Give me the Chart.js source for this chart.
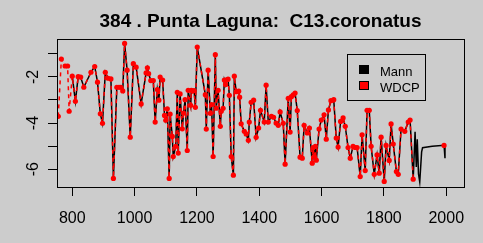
<!DOCTYPE html>
<html><head><meta charset="utf-8">
<script src="https://cdn.jsdelivr.net/npm/chart.js@4"></script>
<style>html,body{margin:0;padding:0;background:#cccccc;overflow:hidden}#wrap{width:483px;height:243px}</style>
</head><body><div id="wrap"><canvas id="c" width="483" height="243"></canvas></div>
<script>
const titleText = '384 . Punta Laguna:  C13.coronatus';
const xTickValues = [800, 1000, 1200, 1400, 1600, 1800, 2000];
const yTickValues = [-1, -2, -3, -4, -5, -6];
const yLabelValues = [-2, -4, -6];
const legendLabels = ['Mann', 'WDCP'];

const wdcpYears = [755,765,777,785,790,800,810,819,827,837,
860,872,881,890,897,906,915,924,932,943,
950,956,962,968,976,986,996,1005,1021,1037,
1041,1045,1052,1060,1066,1073,1078,1082,1090,1096,
1100,1105,1111,1114,1121,1124,1132,1137,1140,1146,
1153,1157,1162,1169,1172,1180,1182,1186,1191,1195,
1201,1227,1230,1236,1243,1247,1252,1259,1262,1268,
1275,1278,1284,1288,1292,1294,1300,1304,1310,1317,
1320,1326,1334,1337,1342,1352,1358,1365,1368,1374,
1382,1390,1398,1404,1416,1422,1429,1439,1446,1454,
1461,1467,1477,1483,1493,1499,1503,1509,1515,1522,
1531,1538,1544,1554,1561,1570,1573,1576,1580,1583,
1592,1599,1608,1615,1622,1630,1639,1647,1653,1661,
1669,1676,1685,1692,1701,1708,1714,1724,1730,1740,
1746,1753,1759,1769,1778,1785,1791,1801,1807,1817,
1823,1830,1840,1846,1855,1867,1878,1884,1894,1940,
1993];
const wdcpValues = [-3.71,-1.23,-1.53,-1.53,-3.49,-1.97,-3.06,-1.99,-2.01,-2.45,
-1.80,-1.55,-2.23,-3.60,-4.01,-1.80,-2.06,-2.09,-6.40,-2.45,
-2.45,-2.45,-2.61,-0.55,-1.71,-4.61,-1.43,-1.58,-3.17,-1.83,
-1.61,-1.86,-2.16,-2.16,-3.96,-2.55,-3.01,-2.01,-2.14,-3.67,
-3.88,-3.38,-6.40,-3.61,-4.58,-5.45,-5.01,-2.67,-5.30,-2.74,
-4.25,-3.57,-2.99,-5.19,-2.58,-3.23,-2.58,-2.62,-2.59,-3.32,
-0.71,-2.77,-4.26,-1.71,-3.58,-3.20,-5.45,-1.04,-3.36,-2.58,
-4.14,-3.49,-3.36,-2.14,-2.33,-2.14,-2.10,-2.80,-5.45,-6.26,
-1.97,-2.64,-2.62,-2.88,-4.03,-4.36,-4.47,-4.75,-3.96,-3.10,
-3.01,-4.62,-4.22,-3.45,-3.96,-2.36,-3.96,-3.71,-3.75,-4.00,
-4.10,-3.52,-4.01,-5.78,-2.93,-4.39,-2.86,-2.78,-2.70,-3.46,
-5.48,-5.52,-4.10,-4.43,-4.22,-5.74,-5.06,-5.45,-5.01,-5.61,
-4.26,-3.87,-3.64,-4.70,-3.43,-3.03,-2.99,-4.65,-5.04,-3.93,
-3.78,-4.14,-5.06,-5.52,-5.01,-5.06,-5.06,-6.32,-4.51,-6.06,
-3.45,-3.45,-5.01,-6.22,-5.38,-6.17,-4.61,-6.53,-4.97,-5.62,
-4.04,-4.91,-6.10,-6.22,-4.26,-4.36,-3.96,-3.87,-6.43,null,
-4.97];

const mannYears = [800,810,819,827,837,
860,872,881,890,897,906,915,924,932,943,
950,956,962,968,976,986,996,1005,1021,1037,
1041,1045,1052,1060,1066,1073,1078,1082,1090,1096,
1100,1105,1111,1114,1121,1124,1132,1137,1140,1146,
1153,1157,1162,1169,1172,1180,1182,1186,1191,1195,
1201,1227,1230,1236,1243,1247,1252,1259,1262,1268,
1275,1278,1284,1288,1292,1294,1300,1304,1310,1317,
1320,1326,1334,1337,1342,1352,1358,1365,1368,1374,
1382,1390,1398,1404,1416,1422,1429,1439,1446,1454,
1461,1467,1477,1483,1493,1499,1503,1509,1515,1522,
1531,1538,1544,1554,1561,1570,1573,1576,1580,1583,
1592,1599,1608,1615,1622,1630,1639,1647,1653,1661,
1669,1676,1685,1692,1701,1708,1714,1724,1730,1740,
1746,1753,1759,1769,1778,1785,1791,1801,1807,1817,
1823,1830,1840,1846,1855,1867,1878,1884,1894,
1900,1904,1907,1911,1915,1921,1924,1955,1993,1996];
const mannValues = [-1.97,-3.06,-1.99,-2.01,-2.45,
-1.80,-1.55,-2.23,-3.60,-4.01,-1.80,-2.06,-2.09,-6.40,-2.45,
-2.45,-2.45,-2.61,-0.55,-1.71,-4.61,-1.43,-1.58,-3.17,-1.83,
-1.61,-1.86,-2.16,-2.16,-3.96,-2.55,-3.01,-2.01,-2.14,-3.67,
-3.88,-3.38,-6.40,-3.61,-4.58,-5.45,-5.01,-2.67,-5.30,-2.74,
-4.25,-3.57,-2.99,-5.19,-2.58,-3.23,-2.58,-2.62,-2.59,-3.32,
-0.71,-2.77,-4.26,-1.71,-3.58,-3.20,-5.45,-1.04,-3.36,-2.58,
-4.14,-3.49,-3.36,-2.14,-2.33,-2.14,-2.10,-2.80,-5.45,-6.26,
-1.97,-2.64,-2.62,-2.88,-4.03,-4.36,-4.47,-4.75,-3.96,-3.10,
-3.01,-4.62,-4.22,-3.45,-3.96,-2.36,-3.96,-3.71,-3.75,-4.00,
-4.10,-3.52,-4.01,-5.78,-2.93,-4.39,-2.86,-2.78,-2.70,-3.46,
-5.48,-5.52,-4.10,-4.43,-4.22,-5.74,-5.06,-5.45,-5.01,-5.61,
-4.26,-3.87,-3.64,-4.70,-3.43,-3.03,-2.99,-4.65,-5.04,-3.93,
-3.78,-4.14,-5.06,-5.52,-5.01,-5.06,-5.06,-6.32,-4.51,-6.06,
-3.45,-3.45,-5.01,-6.22,-5.38,-6.17,-4.61,-6.53,-4.97,-5.62,
-4.04,-4.91,-6.10,-6.22,-4.26,-4.36,-3.96,-3.87,-6.43,
-4.38,-5.90,-4.70,-6.20,-6.55,-5.25,-5.07,-5.01,-4.96,-5.52];

const toXY = (xs, ys) => xs.map((x, i) => ({x: x, y: ys[i]}));
const FONT = '"Liberation Sans", Arial, sans-serif';

const bgPlugin = {
  id: 'bg',
  beforeDraw(chart) {
    const c = chart.ctx;
    c.save(); c.fillStyle = '#cccccc'; c.fillRect(0, 0, chart.width, chart.height); c.restore();
  }
};

const decorPlugin = {
  id: 'decor',
  afterDraw(chart) {
    const c = chart.ctx, a = chart.chartArea;
    c.save();
    c.strokeStyle = '#000'; c.lineWidth = 1;
    c.strokeRect(Math.round(a.left) + 0.5, Math.round(a.top) + 0.5,
                 Math.round(a.right - a.left), Math.round(a.bottom - a.top));
    c.fillStyle = '#000';
    c.font = 'bold 19px ' + FONT;
    c.textAlign = 'center'; c.textBaseline = 'alphabetic';
    c.fillText(titleText, (a.left + a.right) / 2, 27);
    const ys = chart.scales.y;
    c.font = '16px ' + FONT;
    yLabelValues.forEach(v => {
      const py = ys.getPixelForValue(v);
      c.save(); c.translate(37.5, py); c.rotate(-Math.PI / 2);
      c.textAlign = 'center'; c.textBaseline = 'alphabetic';
      c.fillText(String(v), 0, 0);
      c.restore();
    });
    c.strokeRect(347.5, 54.5, 78, 46);
    const cols = ['#000000', '#ff0000'];
    const rows = [65, 81];
    c.font = '13px ' + FONT;
    c.textAlign = 'left'; c.textBaseline = 'alphabetic';
    legendLabels.forEach((lab, i) => {
      c.fillStyle = cols[i];
      c.fillRect(359, rows[i], 10, 9);
      c.strokeStyle = '#000';
      c.strokeRect(359.5, rows[i] + 0.5, 9, 8);
      c.fillStyle = '#000';
      c.fillText(lab, 380, rows[i] + 10.5);
    });
    c.restore();
  }
};

new Chart(document.getElementById('c'), {
  type: 'line',
  data: {
    datasets: [
      {
        label: 'WDCP', data: toXY(wdcpYears, wdcpValues),
        borderColor: '#ff0000', borderWidth: 1.5, borderDash: [4, 4],
        pointRadius: 2.6, pointBackgroundColor: '#ff0000', pointBorderColor: '#ff0000', pointBorderWidth: 0,
        spanGaps: false, tension: 0, order: 0
      },
      {
        label: 'Mann', data: toXY(mannYears, mannValues),
        borderColor: '#000000', borderWidth: 1.5, pointRadius: 0, tension: 0, order: 1
      }
    ]
  },
  options: {
    responsive: false, animation: false, devicePixelRatio: 1,
    layout: {padding: {left: 0, top: 39, right: 19, bottom: 0}},
    plugins: {legend: {display: false}, tooltip: {enabled: false}, title: {display: false}},
    scales: {
      x: {
        type: 'linear', min: 751, max: 2057,
        afterBuildTicks: s => { s.ticks = xTickValues.map(v => ({value: v})); },
        afterFit: s => { s.height = 56; },
        ticks: {font: {family: FONT, size: 16}, color: '#000', padding: 13, maxRotation: 0, autoSkip: false,
                callback: v => String(v)},
        grid: {drawOnChartArea: false, drawTicks: true, tickLength: 9, color: '#000'},
        border: {display: true, color: '#000'}
      },
      y: {
        type: 'linear', min: -6.77, max: -0.36,
        afterBuildTicks: s => { s.ticks = yTickValues.map(v => ({value: v})); },
        afterFit: s => { s.width = 57; },
        ticks: {display: false},
        grid: {drawOnChartArea: false, drawTicks: true, tickLength: 9, color: '#000'},
        border: {display: true, color: '#000'}
      }
    }
  },
  plugins: [bgPlugin, decorPlugin]
});
</script></body></html>
